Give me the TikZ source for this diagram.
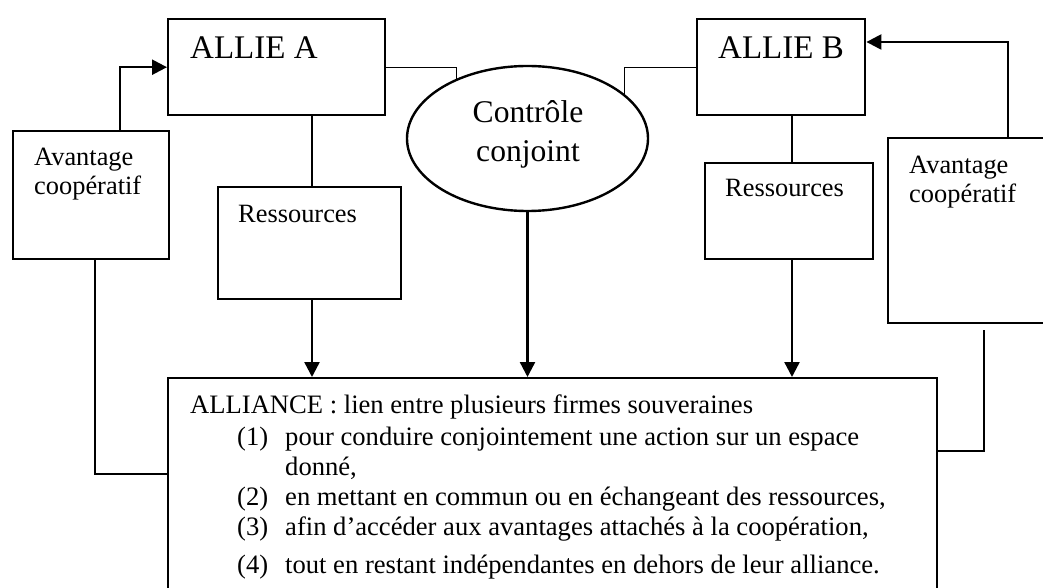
\documentclass[tikz,border=0pt]{standalone}
\usepackage{fontspec}
\setmainfont{Liberation Serif}
\usetikzlibrary{arrows.meta,shapes.geometric,backgrounds}
\begin{document}
\begin{tikzpicture}[x=0.5pt,y=-0.5pt, line width=1.2pt,
  box/.style={draw, inner sep=0pt, anchor=north west},
  arr/.style={-{Triangle[length=7.5pt,width=7.5pt]}},
  txt/.style={anchor=base west, inner sep=0pt},
  big/.style={font=\fontsize{16.5}{19}\selectfont},
  mid/.style={font=\fontsize{15.8}{19}\selectfont},
  small/.style={font=\fontsize{13.2}{15}\selectfont},
  body/.style={font=\fontsize{13.3}{15}\selectfont}]
\useasboundingbox (0,0) rectangle (1043,588);
\clip (0,0) rectangle (1043,588);

% boxes
\node[box, minimum width=108.5pt, minimum height=48pt] (allieA) at (167,18) {};
\node[box, minimum width=78pt, minimum height=64pt] (avA) at (12,130) {};
\node[box, minimum width=91.5pt, minimum height=56pt] (resA) at (217,186) {};
\node[draw, fill=white, ellipse, inner sep=0pt, minimum width=120.5pt, minimum height=72.5pt] (ctrl) at (527.5,138.5) {};
\node[box, minimum width=84pt, minimum height=48pt] (allieB) at (696,18) {};
\node[box, minimum width=84pt, minimum height=48pt] (resB) at (704,162) {};
\node[box, minimum width=100pt, minimum height=92.5pt] (avB) at (887,137) {};
\node[box, minimum width=384.5pt, minimum height=120pt] (alliance) at (167,377) {};

% texts
\node[txt, big] (tAA) at (189,59) {ALLIE A};
\node[txt, big] (tAB) at (717,59) {ALLIE B};
\node[anchor=base, inner sep=0pt, mid] (tC1) at (528,123) {Contrôle};
\node[anchor=base, inner sep=0pt, mid] (tC2) at (528,162) {conjoint};
\node[txt, small] (tRA) at (237,222) {Ressources};
\node[txt, small] (tRB) at (724,197) {Ressources};
\node[txt, small] (tVA1) at (33,166) {Avantage};
\node[txt, small] (tVA2) at (33,195) {coopératif};
\node[txt, small] (tVB1) at (908,174) {Avantage};
\node[txt, small] (tVB2) at (908,203) {coopératif};

\node[txt, body] (l0) at (189,413) {ALLIANCE : lien entre plusieurs firmes souveraines};
\node[txt, body] (n1) at (236,445) {(1)};
\node[txt, body] (l1) at (284,445) {pour conduire conjointement une action sur un espace};
\node[txt, body] (l1b) at (284,475) {donné,};
\node[txt, body] (n2) at (236,505) {(2)};
\node[txt, body] (l2) at (284,505) {en mettant en commun ou en échangeant des ressources,};
\node[txt, body] (n3) at (236,535) {(3)};
\node[txt, body] (l3) at (284,535) {afin d’accéder aux avantages attachés à la coopération,};
\node[txt, body] (n4) at (236,573) {(4)};
\node[txt, body] (l4) at (284,573) {tout en restant indépendantes en dehors de leur alliance.};

% coordinates
\coordinate (pA) at (120,0);
\coordinate (qA) at (95,474);
\coordinate (xA) at (312,0);
\coordinate (cA) at (456,66);
\coordinate (cB) at (624,66);
\coordinate (xB) at (792,0);
\coordinate (tB) at (1008,42);
\coordinate (sB) at (984,330);
\coordinate (rB) at (984,451);

\begin{scope}[on background layer]
  \draw (allieA.east) -| (cA |- ctrl.center);
  \draw (allieB.west) -| (cB |- ctrl.center);
\end{scope}

\draw[arr] (avA.north -| pA) |- (allieA.west);
\draw (avA.south -| qA) -- (qA) -- (qA -| alliance.west);
\draw (allieA.south -| xA) -- (resA.north -| xA);
\draw[arr] (resA.south -| xA) -- (alliance.north -| xA);
\draw[arr] (ctrl.south) -- (alliance.north -| ctrl.south);
\draw (allieB.south -| xB) -- (resB.north -| xB);
\draw[arr] (resB.south -| xB) -- (alliance.north -| xB);
\draw[arr] (avB.north -| tB) -- (tB) -- (tB -| allieB.east);
\draw (sB) -- (rB) -- (rB -| alliance.east);
\end{tikzpicture}
\end{document}
